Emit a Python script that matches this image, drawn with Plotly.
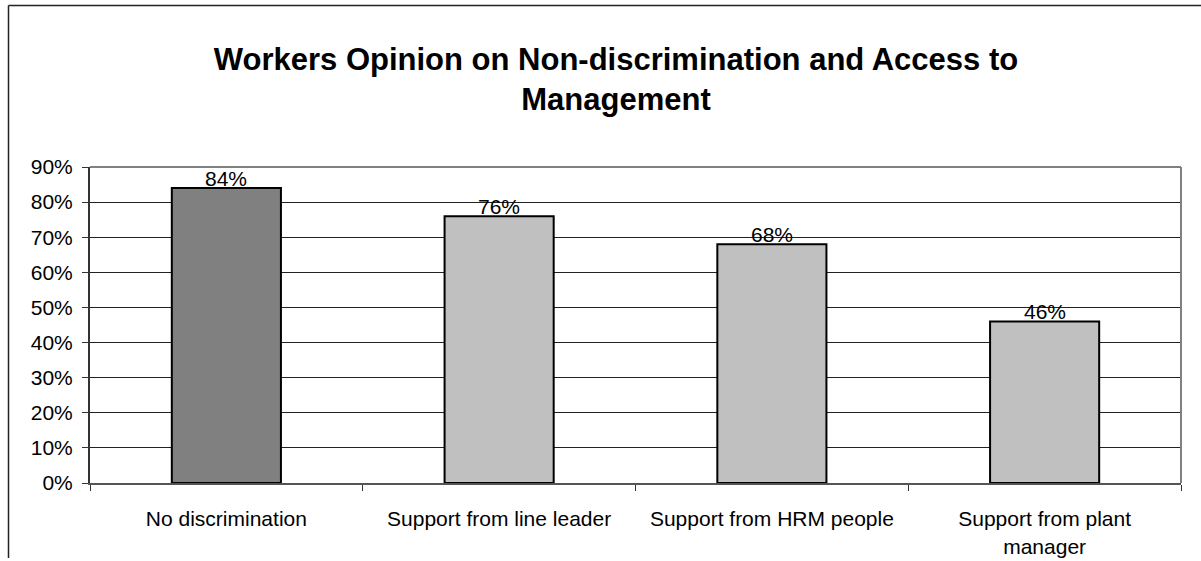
import plotly.graph_objects as go

categories = ["No discrimination", "Support from line leader", "Support from HRM people",
              "Support from plant<br>manager"]
values = [84, 76, 68, 46]
bar_colors = ["#808080", "#C0C0C0", "#C0C0C0", "#C0C0C0"]
tick_vals = [0, 10, 20, 30, 40, 50, 60, 70, 80, 90]
tick_text = [f"{v}%" for v in tick_vals]
title_text = "<b>Workers Opinion on Non-discrimination and Access to<br>Management</b>"

W, H = 1201, 561
ml, mr, mt, mb = 90, 20, 167, 78
pw, ph = W - ml - mr, H - mt - mb
FONT = "Liberation Sans, Arial"

def px_x(x):
    return (x - ml) / pw

def px_y(y):
    return (H - mb - y) / ph

fig = go.Figure()
fig.add_trace(go.Bar(
    x=categories, y=values,
    marker=dict(color=bar_colors, line=dict(color="black", width=2)),
    width=0.4,
))

for c, v in zip(categories, values):
    fig.add_annotation(x=c, y=v, text=f"{v}%", showarrow=False,
                       yanchor="bottom", yshift=-4,
                       font=dict(family=FONT, size=21, color="black"))

fig.update_layout(
    width=W, height=H,
    margin=dict(l=ml, r=mr, t=mt, b=mb),
    paper_bgcolor="white", plot_bgcolor="white",
    showlegend=False,
    font=dict(family=FONT, size=21, color="black"),
    title=dict(text=title_text, x=px_x(616), xref="paper", xanchor="center",
               y=1 - 70 / H, yanchor="top",
               font=dict(family=FONT, size=31, color="black")),
    xaxis=dict(
        showgrid=False, ticks="outside", tickson="boundaries", ticklen=6,
        tickcolor="#333333", showline=True, linecolor="#555555", linewidth=2,
        mirror=False, tickfont=dict(size=21), automargin=False,
        ticklabelstandoff=16,
    ),
    yaxis=dict(
        range=[0, 90], tickvals=tick_vals, ticktext=tick_text,
        showgrid=True, gridcolor="#222222", gridwidth=1,
        ticks="outside", ticklen=6, tickcolor="#333333",
        showline=True, linecolor="#333333", linewidth=2,
        zeroline=False, tickfont=dict(size=21), automargin=False,
        ticklabelstandoff=5,
    ),
    bargap=0.6,
)

# plot area top/right grey border
fig.add_shape(type="line", xref="paper", yref="paper", x0=0, x1=1, y0=1, y1=1,
              line=dict(color="#808080", width=2))
fig.add_shape(type="line", xref="paper", yref="paper", x0=1, x1=1, y0=0, y1=1,
              line=dict(color="#808080", width=2))
# outer chart frame (left and top visible)
fig.add_shape(type="line", xref="paper", yref="paper", x0=px_x(8.5), x1=px_x(8.5),
              y0=px_y(5.5), y1=px_y(558), line=dict(color="#222222", width=1.5))
fig.add_shape(type="line", xref="paper", yref="paper", x0=px_x(8.5), x1=px_x(1205),
              y0=px_y(5.5), y1=px_y(5.5), line=dict(color="#222222", width=1.5))

fig.write_html("out.html")
